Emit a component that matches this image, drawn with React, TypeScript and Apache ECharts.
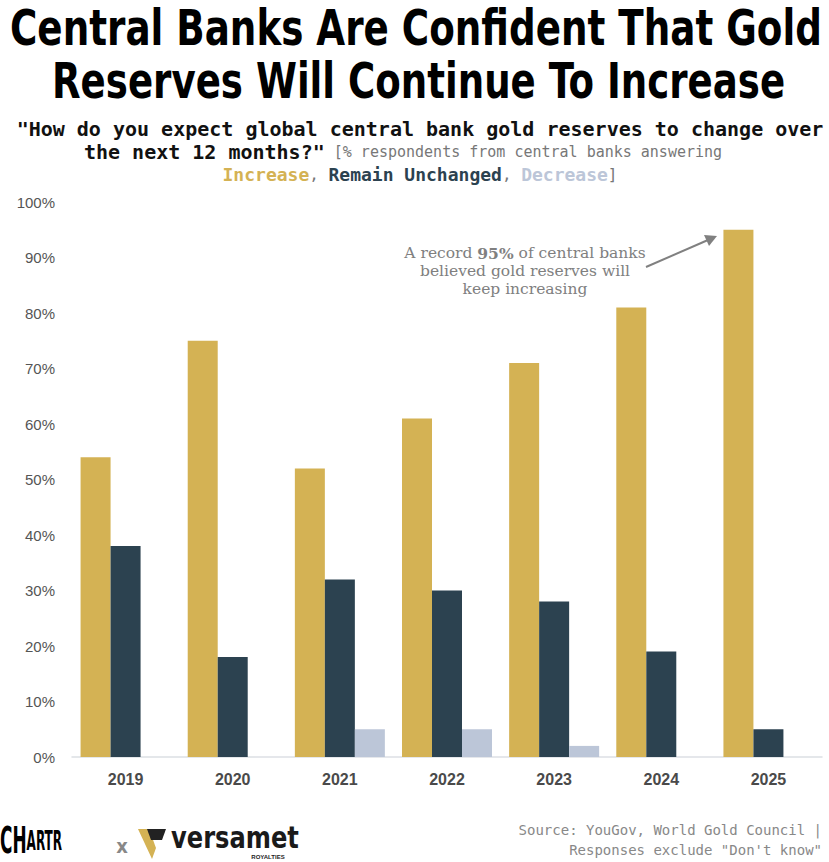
import React, { useEffect, useRef } from "react";
import * as echarts from "echarts";

const years = ["2019", "2020", "2021", "2022", "2023", "2024", "2025"];
const increase = [54, 75, 52, 61, 71, 81, 95];
const unchanged = [38, 18, 32, 30, 28, 19, 5];
const decrease = [0, 0, 5, 5, 2, 0, 0];
const yTicks = [0, 10, 20, 30, 40, 50, 60, 70, 80, 90, 100];

const GOLD = "#D4B254";
const DARK = "#2C4250";
const LIGHT = "#BCC6D8";

const TITLE_FONT = "'DejaVu Sans Condensed', 'Liberation Sans Narrow', 'DejaVu Sans', sans-serif";
const MONO = "'DejaVu Sans Mono', 'Liberation Mono', monospace";
const SERIF = "'DejaVu Serif', 'Liberation Serif', serif";

function measure(text: string, font: string): number {
  const c = document.createElement("canvas");
  const ctx = c.getContext("2d");
  if (!ctx) return 1;
  ctx.font = font;
  return ctx.measureText(text).width;
}

export default function App() {
  const ref = useRef<HTMLDivElement>(null);
  useEffect(() => {
    document.body.style.margin = "0";
    if (!ref.current) return;
    const chart = echarts.init(ref.current, null, { renderer: "svg" });

    const t1 = "Central Banks Are Confident That Gold";
    const t2 = "Reserves Will Continue To Increase";
    const tSize = 50;
    const tFontCss = `bold ${tSize}px ${TITLE_FONT}`;
    const s1 = 812 / measure(t1, tFontCss);
    const s2 = 733 / measure(t2, tFontCss);

    const chA = `bold 38px ${TITLE_FONT}`;
    const chB = `bold 27px ${TITLE_FONT}`;
    const chW = measure("CH", chA) + measure("ARTR", chB);
    const chScale = 62 / chW;

    const vFont = `bold 30px ${TITLE_FONT}`;
    const vScale = 128 / measure("versamet", vFont);

    chart.setOption({
      animation: false,
      backgroundColor: "#ffffff",
      grid: { left: 72, right: 7, top: 202, bottom: 105 },
      xAxis: {
        type: "category",
        data: years,
        axisLine: { lineStyle: { color: "#dcdfe4", width: 1.5 } },
        axisTick: { show: false },
        axisLabel: {
          color: "#4a4a4a",
          fontWeight: "bold",
          fontSize: 16,
          fontFamily: "'Liberation Sans', Arial, sans-serif",
          margin: 14,
        },
      },
      yAxis: {
        type: "value",
        min: 0,
        max: 100,
        interval: 10,
        splitLine: { show: false },
        axisLine: { show: false },
        axisTick: { show: false },
        axisLabel: {
          color: "#555555",
          fontSize: 15,
          fontFamily: "'Liberation Sans', Arial, sans-serif",
          margin: 17,
          formatter: (v: number) => (yTicks.includes(v) ? `${v}%` : ""),
        },
      },
      series: [
        { name: "Increase", type: "bar", data: increase, barWidth: 30, barGap: "0%", itemStyle: { color: GOLD } },
        { name: "Remain Unchanged", type: "bar", data: unchanged, barWidth: 30, barGap: "0%", itemStyle: { color: DARK } },
        { name: "Decrease", type: "bar", data: decrease, barWidth: 30, barGap: "0%", itemStyle: { color: LIGHT } },
      ],
      graphic: [
        {
          type: "text",
          x: 10,
          y: 28,
          scaleX: s1,
          style: { text: t1, font: tFontCss, fill: "#000", textAlign: "left", textVerticalAlign: "middle" },
        },
        {
          type: "text",
          x: 52,
          y: 81,
          scaleX: s2,
          style: { text: t2, font: tFontCss, fill: "#000", textAlign: "left", textVerticalAlign: "middle" },
        },
        {
          type: "text",
          x: 420,
          y: 129,
          style: {
            text: "\"How do you expect global central bank gold reserves to change over",
            font: `bold 20px ${MONO}`,
            fill: "#111",
            textAlign: "center",
            textVerticalAlign: "middle",
          },
        },
        {
          type: "text",
          x: 403,
          y: 152,
          style: {
            text: "{b|the next 12 months?\"}{g| [% respondents from central banks answering}",
            textAlign: "center",
            textVerticalAlign: "middle",
            rich: {
              b: { font: `bold 20px ${MONO}`, fill: "#111" },
              g: { font: `15px ${MONO}`, fill: "#777" },
            },
          },
        },
        {
          type: "text",
          x: 420,
          y: 174,
          style: {
            text: "{i|Increase}{g|, }{u|Remain Unchanged}{g|, }{d|Decrease}{g|]}",
            textAlign: "center",
            textVerticalAlign: "middle",
            rich: {
              i: { font: `bold 18px ${MONO}`, fill: GOLD },
              u: { font: `bold 18px ${MONO}`, fill: DARK },
              d: { font: `bold 18px ${MONO}`, fill: LIGHT },
              g: { font: `16px ${MONO}`, fill: "#777" },
            },
          },
        },
        {
          type: "text",
          x: 525,
          y: 271,
          style: {
            text: "{n|A record }{b|95%}{n| of central banks}\n{n|believed gold reserves will}\n{n|keep increasing}",
            textAlign: "center",
            textVerticalAlign: "middle",
            rich: {
              n: { font: `15.5px ${SERIF}`, fill: "#808080", lineHeight: 18 },
              b: { font: `bold 15.5px ${SERIF}`, fill: "#808080", lineHeight: 18 },
            },
          },
        },
        {
          type: "line",
          shape: { x1: 646, y1: 267, x2: 708, y2: 240 },
          style: { stroke: "#808080", lineWidth: 2 },
        },
        {
          type: "polygon",
          shape: { points: [[717, 236], [704, 235], [709, 246]] },
          style: { fill: "#808080" },
        },
        {
          type: "text",
          x: 822,
          y: 840,
          style: {
            text: "Source: YouGov, World Gold Council |\nResponses exclude \"Don't know\"",
            font: `14px ${MONO}`,
            fill: "#888",
            textAlign: "right",
            textVerticalAlign: "middle",
            lineHeight: 20,
          },
        },
        {
          type: "text",
          x: 0,
          y: 840,
          scaleX: chScale,
          style: {
            text: "{a|CH}{b|ARTR}",
            textAlign: "left",
            textVerticalAlign: "middle",
            rich: {
              a: { font: chA, fill: "#000" },
              b: { font: chB, fill: "#000" },
            },
          },
        },
        {
          type: "text",
          x: 122,
          y: 846,
          style: { text: "x", font: `bold 20px ${TITLE_FONT}`, fill: "#888", textAlign: "center", textVerticalAlign: "middle" },
        },
        {
          type: "polygon",
          shape: { points: [[138, 829], [149, 829], [156, 848], [152, 859]] },
          style: { fill: GOLD },
        },
        {
          type: "polygon",
          shape: { points: [[147, 829], [166, 829], [162, 840], [151, 840]] },
          style: { fill: "#222" },
        },
        {
          type: "text",
          x: 171,
          y: 838,
          scaleX: vScale,
          style: { text: "versamet", font: vFont, fill: "#1a1a1a", textAlign: "left", textVerticalAlign: "middle" },
        },
        {
          type: "text",
          x: 268,
          y: 857,
          style: { text: "ROYALTIES", font: `bold 6px 'Liberation Sans', sans-serif`, fill: "#222", textAlign: "center", textVerticalAlign: "middle" },
        },
      ],
    });
    return () => chart.dispose();
  }, []);
  return (
    <div
      ref={ref}
      style={{ position: "fixed", left: 0, top: 0, width: 829, height: 862, background: "#fff" }}
    />
  );
}
